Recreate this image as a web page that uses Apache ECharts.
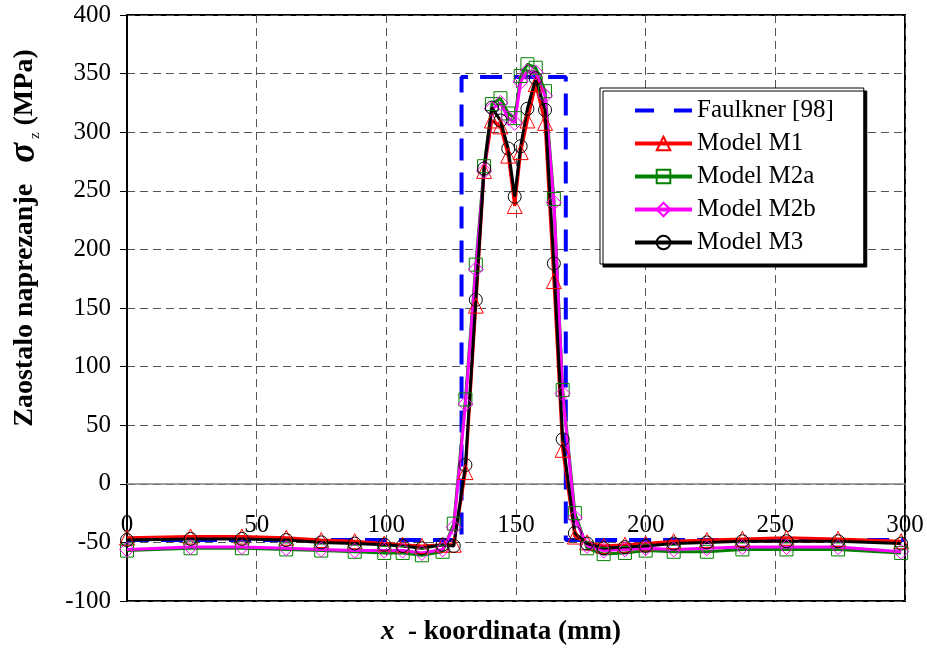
<!DOCTYPE html>
<html>
<head>
<meta charset="utf-8">
<script src="https://cdn.jsdelivr.net/npm/echarts@6/dist/echarts.min.js"></script>
<style>html,body{margin:0;padding:0;background:#fff}#c{width:927px;height:648px}</style>
</head>
<body>
<div id="c"></div>
<script>
// x nodes (mm) shared by the FEM models
const xNodes = [0, 24.5, 44.3, 61.4, 74.9, 87.8, 99.2, 106.3, 113.7, 121.7, 126, 130.5, 134.5, 137.7, 140.7, 144, 147, 149.5, 151.8, 154.4, 157.6, 161.2, 164.6, 168, 172.7, 177.4, 183.8, 192, 200, 210.8, 223.6, 237.3, 254.3, 274.2, 298.5];
const m1   = [-46, -45, -45, -46, -48, -49, -51, -52, -53, -52, -52, 10, 152, 267, 310, 305, 280, 237, 283, 310, 341, 308, 173, 29, -45, -50, -53, -52, -51, -49, -48, -47, -46, -47, -49];
const m2a  = [-57, -55, -55, -56, -57, -58, -59, -59, -61, -58, -34, 72, 187, 271, 324, 329, 316, 312, 348, 358, 355, 335, 243, 80, -25, -55, -60, -59, -57, -58, -58, -56, -56, -56, -59];
const m2b  = [-56, -54, -54, -55, -56, -57, -57, -57, -59, -56, -37, 68, 183, 267, 320, 325, 312, 308, 343, 352, 351, 331, 240, 77, -29, -53, -57, -56, -55, -56, -55, -54, -54, -54, -58];
const m3   = [-48, -47, -47, -48, -50, -51, -52, -53, -55, -52, -53, 16, 157, 269, 321, 310, 286, 245, 288, 320, 346, 319, 188, 38, -42, -51, -55, -54, -53, -51, -50, -49, -49, -49, -51];
// Faulkner [98] idealised distribution
const faulknerX = [0, 129, 129, 169.2, 169.2, 300];
const faulknerY = [-48, -48, 347, 347, -48, -48];

const pairs = (xs, ys) => xs.map((x, i) => [x, ys[i]]);
const serif = '"Liberation Serif", "Times New Roman", serif';

function model(name, data, color, symbol, size) {
  return {
    name, type: 'line', data, symbol, symbolSize: size,
    lineStyle: { color, width: 3 },
    itemStyle: { color: 'rgba(0,0,0,0)', borderColor: color, borderWidth: 1 },
    emphasis: { disabled: true }, animation: false, z: 3
  };
}
function legendItem(name) {
  return { name, lineStyle: { width: 4 } };
}

const chart = echarts.init(document.getElementById('c'));
chart.setOption({
  animation: false,
  grid: { left: 127, right: 22, top: 15, bottom: 47, containLabel: false, outerBoundsMode: 'none',
          show: true, borderColor: '#000', borderWidth: 2, backgroundColor: 'transparent' },
  legend: {
    orient: 'vertical', left: 600, top: 88,
    padding: [10, 30, 9, 33],
    itemWidth: 57, itemHeight: 17, itemGap: 8,
    backgroundColor: '#fff', borderColor: '#000', borderWidth: 1,
    shadowColor: '#000', shadowBlur: 0, shadowOffsetX: 3, shadowOffsetY: 3,
    textStyle: { fontFamily: serif, fontSize: 25, color: '#000' },
    data: [
      { name: 'Faulkner [98]', icon: 'path://M0,0H19V4H0Z M39,0H57V4H39Z',
        itemStyle: { color: '#0000FF', borderWidth: 0 } },
      legendItem('Model M1'), legendItem('Model M2a'), legendItem('Model M2b'), legendItem('Model M3')
    ]
  },
  xAxis: {
    type: 'value', min: 0, max: 300, interval: 50,
    axisLine: { onZero: true, lineStyle: { color: '#808080', width: 1.5 } },
    axisTick: { show: false },
    axisLabel: { fontFamily: serif, fontSize: 25, color: '#000', margin: -88, showMinLabel: true, showMaxLabel: true },
    splitLine: { show: true, lineStyle: { color: '#555', type: [8, 5], width: 1 } },
    name: '{i|x}{b|  - koordinata (mm)}',
    nameLocation: 'middle', nameGap: 18, nameMoveOverlap: false,
    nameTextStyle: {
      padding: [0, 30, 0, 0],
      rich: {
        i: { fontFamily: serif, fontSize: 27, fontStyle: 'italic', fontWeight: 'bold', color: '#000' },
        b: { fontFamily: serif, fontSize: 27, fontWeight: 'bold', color: '#000' }
      }
    }
  },
  yAxis: {
    type: 'value', min: -100, max: 400, interval: 50,
    axisLine: { show: true, onZero: false, lineStyle: { color: '#000', width: 2 } },
    axisTick: { show: true, inside: false, length: 7, lineStyle: { color: '#000' } },
    axisLabel: { fontFamily: serif, fontSize: 25, color: '#000', margin: 16 },
    splitLine: { show: true, lineStyle: { color: '#555', type: [8, 5], width: 1 } },
    name: '{b|Zaostalo naprezanje   }{s|σ}{z| z}{b| (MPa)}',
    nameLocation: 'middle', nameGap: 84, nameRotate: 90, nameMoveOverlap: false,
    nameTextStyle: {
      padding: [0, 0, 0, 140],
      rich: {
        b: { fontFamily: serif, fontSize: 28, fontWeight: 'bold', color: '#000' },
        s: { fontFamily: serif, fontSize: 37, fontWeight: 'bold', fontStyle: 'italic', color: '#000' },
        z: { fontFamily: serif, fontSize: 15, color: '#000', verticalAlign: 'bottom', padding: [8, 0, 0, 0] }
      }
    }
  },
  series: [
    {
      name: 'Faulkner [98]', type: 'line', data: pairs(faulknerX, faulknerY), symbol: 'none',
      lineStyle: { color: '#0000FF', width: 4, type: [22, 12] },
      itemStyle: { color: '#0000FF' }, z: 2
    },
    model('Model M1', pairs(xNodes, m1), '#FF0000', 'triangle', 15),
    model('Model M2a', pairs(xNodes, m2a), '#008000', 'rect', 13),
    model('Model M2b', pairs(xNodes, m2b), '#FF00FF', 'diamond', 15),
    model('Model M3', pairs(xNodes, m3), '#000000', 'circle', 13)
  ]
});
</script>
</body>
</html>
